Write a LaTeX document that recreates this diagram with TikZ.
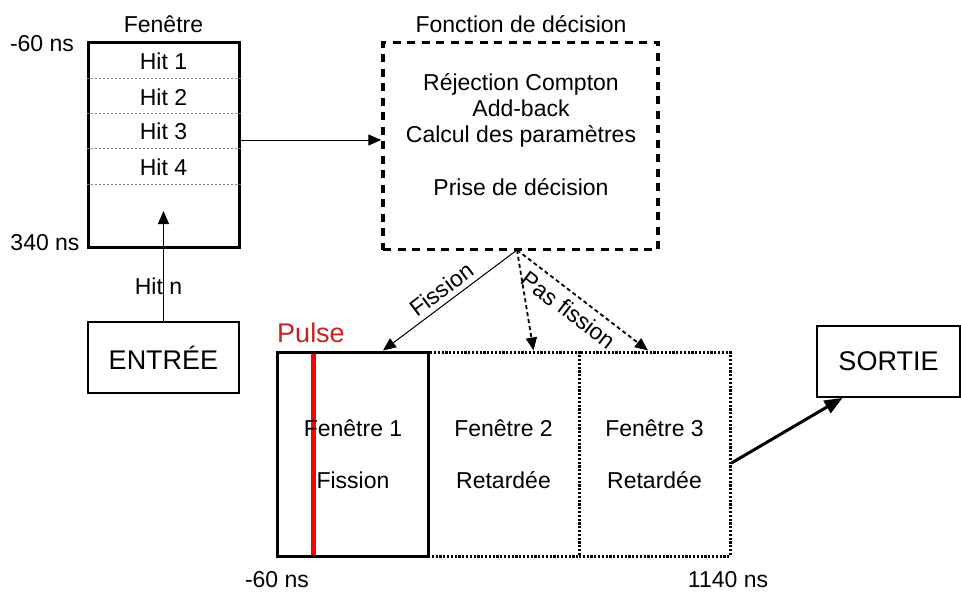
\documentclass[tikz,border=0pt]{standalone}
\usepackage{fontspec}
\setmainfont{Liberation Sans}
\usepackage{tikz}
\usetikzlibrary{arrows.meta,positioning}
\definecolor{rrouge}{HTML}{FF0000}
\definecolor{prouge}{HTML}{C9211E}

\tikzset{
  txt/.style={font=\fontsize{23}{26}\selectfont, inner sep=0pt},
  gtxt/.style={font=\fontsize{27}{30}\selectfont, inner sep=0pt},
  fleche/.style={-{Triangle[length=13pt,width=11pt]}},
  boite/.style={draw, line width=1.8pt, minimum width=151, minimum height=71},
  fenbox/.style={draw, line width=3pt, minimum width=151, minimum height=204},
  pointille/.style={draw, line width=3pt, dash pattern=on 2.2pt off 1.6pt},
}

\begin{document}
\begin{tikzpicture}[x=1pt,y=-1pt]
\useasboundingbox (0,0) rectangle (961,592);

\node[fenbox, minimum height=205] (fen) at (163.5,144.5) {};
\node[txt] (titrefen) at (163.5,24) {Fenêtre};
\node[txt] (debut) at (42,44) {-60 ns};
\node[txt] (fin) at (45,243) {340 ns};
\foreach \y in {78,113,148,184}
\draw[gray, line width=1pt, dash pattern=on 2pt off 2pt] (fen.west |- 0,\y) -- (fen.east |- 0,\y);
\foreach \i/\y in {1/61,2/97,3/131,4/167}
\node[txt] (hit\i) at (163.5,\y) {Hit \i};

\node[boite, gtxt] (entree) at (163.5,357.5) {ENTRÉE};
\coordinate (hitn) at (163.5,211);
\draw[fleche, line width=1pt] (entree.north) -- (hitn) node[txt, pos=0.32, xshift=-5pt] {Hit n};

\node[draw, line width=3.5pt, dash pattern=on 8pt off 6.5pt, minimum width=275, minimum height=207] (dec) at (520.5,146) {};
\node[txt] (titredec) at (521,24) {Fonction de décision};
\node[txt, align=center] (calcul) at (521,110) {Réjection Compton\\Add-back\\Calcul des paramètres};
\node[txt] (prise) at (521,187) {Prise de décision};
\draw[fleche, line width=1pt] ([yshift=4.5pt]fen.east) -- ([yshift=6pt]dec.west);

\node[fenbox] (w1) at (353,454) {};
\node[pointille, minimum width=151, minimum height=204] (w2) at (503.5,454) {};
\node[pointille, minimum width=151, minimum height=204] (w3) at (654.5,454) {};
\draw[rrouge, line width=5pt] (313,353.5) -- (313,554.5);
\node[gtxt, text=prouge] (pulse) at (311,333) {Pulse};
\node[txt] (f1) at (353,428) {Fenêtre 1};
\node[txt] (r1) at (353,480) {Fission};
\node[txt] (f2) at (503.5,428) {Fenêtre 2};
\node[txt] (r2) at (503.5,480) {Retardée};
\node[txt] (f3) at (654.5,428) {Fenêtre 3};
\node[txt] (r3) at (654.5,480) {Retardée};
\node[txt] (t0) at (277,580) {-60 ns};
\node[txt] (t1) at (728,580) {1140 ns};

\coordinate (dep) at (517,250);
\draw[fleche, line width=1pt] (dep) -- ([xshift=30pt]w1.north) node[txt, pos=0.5, sloped, above=5pt] {Fission};
\draw[fleche, line width=1.8pt, dash pattern=on 4pt off 3pt] (dep) -- ([xshift=30pt]w2.north);
\draw[fleche, line width=1.8pt, dash pattern=on 4pt off 3pt] (dep) -- ([xshift=-6.5pt]w3.north) node[txt, pos=0.47, sloped, below=7pt] {Pas fission};

\node[boite, gtxt, minimum width=143] (sortie) at (888.5,361.5) {SORTIE};
\draw[-{Triangle[length=18pt,width=14pt]}, line width=3pt] ([yshift=-9pt]w3.east) -- ([xshift=-46pt]sortie.south);
\end{tikzpicture}
\end{document}
